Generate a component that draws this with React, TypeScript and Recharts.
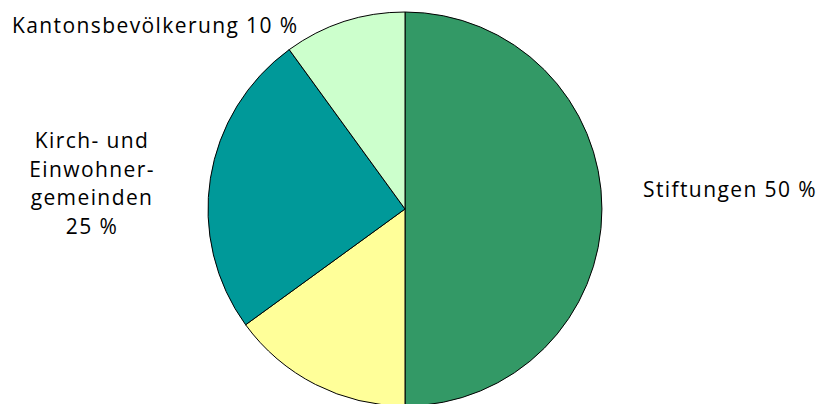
import { PieChart, Pie, Cell } from 'recharts';

const names = ['Stiftungen', 'Übrige', 'Kirch- und Einwohnergemeinden', 'Kantonsbevölkerung'];
const shares = [50, 15, 25, 10];
const colors = ['#339966', '#FFFF99', '#009999', '#CCFFCC'];
const labelLines = [
  ['Stiftungen 50 %'],
  [],
  ['Kirch- und', 'Einwohner-', 'gemeinden', '25 %'],
  ['Kantonsbevölkerung 10 %'],
];

const data = names.map((name, i) => ({ name, value: shares[i] }));

// label placement relative to the pie centre
const labelLayout = [
  { dx: 238, dy: -12, anchor: 'start' },
  { dx: 0, dy: 0, anchor: 'middle' },
  { dx: -313, dy: -61, anchor: 'middle' },
  { dx: -393, dy: -176, anchor: 'start' },
];

const FONT = '"Open Sans", "DejaVu Sans", sans-serif';
const LINE = 28.7;

function renderLabel(props: any) {
  const { cx, cy, index } = props;
  const lines = labelLines[index];
  if (!lines.length) return null;
  const l = labelLayout[index];
  return (
    <text
      x={cx + l.dx}
      y={cy + l.dy}
      textAnchor={l.anchor}
      fill="#000"
      fontSize={21}
      letterSpacing={1.4}
      fontFamily={FONT}
    >
      {lines.map((t, i) => (
        <tspan key={i} x={cx + l.dx} dy={i === 0 ? 0 : LINE}>
          {t}
        </tspan>
      ))}
    </text>
  );
}

export default function App() {
  return (
    <div style={{ position: 'absolute', left: 0, top: 0, width: 825, height: 404, background: '#fff' }}>
      <PieChart width={825} height={404} margin={{ top: 0, right: 0, bottom: 0, left: 0 }}>
        <Pie
          data={data}
          dataKey="value"
          nameKey="name"
          cx={405}
          cy={209}
          outerRadius={197}
          startAngle={90}
          endAngle={-270}
          stroke="#000"
          strokeWidth={1}
          label={renderLabel}
          labelLine={false}
          isAnimationActive={false}
        >
          {data.map((d, i) => (
            <Cell key={d.name} fill={colors[i]} />
          ))}
        </Pie>
      </PieChart>
    </div>
  );
}
